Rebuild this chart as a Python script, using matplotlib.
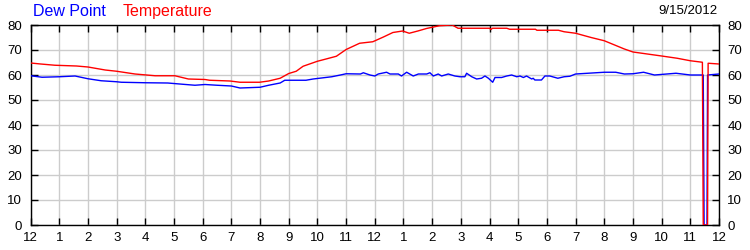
import matplotlib
matplotlib.use("Agg")
import matplotlib.pyplot as plt

# Data (hours since midnight, degrees F)
temp_hours = [0, 0.35, 0.85, 1.6, 2.0, 2.6, 3.0, 3.64, 4.34, 5.03, 5.5, 6.08, 6.24, 6.95,
              7.3, 7.98, 8.3, 8.7, 9.0, 9.26, 9.5, 10.0, 10.3, 10.66, 11.0, 11.47, 11.93,
              12.3, 12.63, 12.97, 13.2, 13.5, 13.8, 14.25, 14.7, 14.9, 16.0, 16.05, 16.1,
              16.6, 16.7, 17.6, 17.65, 18.4, 18.6, 19.0, 19.54, 20.0, 20.7, 21.0, 21.5,
              22.0, 22.54, 23.0, 23.42, 23.45, 23.6, 23.62, 24.0]
temp_values = [64.8, 64.4, 63.9, 63.6, 63.2, 62.0, 61.5, 60.4, 59.7, 59.7, 58.4, 58.2, 57.9, 57.6,
               57.1, 57.1, 57.6, 58.7, 60.6, 61.5, 63.5, 65.5, 66.4, 67.5, 70.2, 72.7, 73.3,
               75.2, 77.0, 77.6, 76.7, 77.6, 78.6, 79.7, 80.0, 78.7, 78.7, 78.2, 78.7,
               78.7, 78.3, 78.3, 77.9, 77.9, 77.3, 76.7, 75.0, 73.7, 70.4, 69.2, 68.4,
               67.6, 66.7, 65.7, 65.1, 0, 0, 64.7, 64.4]

dew_hours = [0, 0.4, 1.0, 1.55, 2.0, 2.46, 3.0, 3.16, 4.0, 4.78, 5.3, 5.73, 6.08, 6.5, 7.0,
             7.3, 8.0, 8.3, 8.7, 8.86, 9.6, 9.85, 10.5, 10.8, 11.0, 11.5, 11.6, 11.83, 12.0,
             12.12, 12.41, 12.53, 12.82, 12.93, 13.11, 13.34, 13.52, 13.81, 13.92, 14.04,
             14.21, 14.33, 14.56, 14.79, 14.97, 15.14, 15.2, 15.38, 15.55, 15.72, 15.84,
             15.96, 16.11, 16.19, 16.42, 16.6, 16.77, 16.95, 17.06, 17.18, 17.29, 17.47,
             17.52, 17.58, 17.81, 17.93, 18.1, 18.38, 18.6, 18.8, 19.0, 20.0, 20.4, 20.7,
             21.0, 21.37, 21.75, 22.5, 23.0, 23.45, 23.48, 23.58, 23.6, 24.0]
dew_values = [59.7, 59.1, 59.3, 59.6, 58.5, 57.7, 57.3, 57.1, 56.9, 56.8, 56.3, 55.9, 56.2, 55.9, 55.6,
              54.8, 55.1, 55.9, 56.8, 57.9, 57.9, 58.4, 59.3, 60.0, 60.5, 60.4, 60.9, 60.0, 59.6,
              60.4, 61.1, 60.4, 60.4, 59.6, 61.1, 59.6, 60.4, 60.4, 60.9, 59.6,
              60.4, 59.6, 60.4, 59.6, 59.3, 59.3, 60.7, 59.3, 58.4, 58.7, 59.6,
              58.7, 57.1, 59.0, 59.0, 59.6, 60.0, 59.3, 59.6, 59.0, 59.6, 58.4,
              58.7, 58.0, 58.0, 59.6, 59.6, 58.7, 59.3, 59.5, 60.4, 61.1, 61.1, 60.4,
              60.5, 61.1, 60.0, 60.7, 60.0, 60.0, 0, 0, 60.0, 60.4]

x_ticks = list(range(0, 25))
x_labels = ["12", "1", "2", "3", "4", "5", "6", "7", "8", "9", "10", "11",
            "12", "1", "2", "3", "4", "5", "6", "7", "8", "9", "10", "11", "12"]
y_ticks = [0, 10, 20, 30, 40, 50, 60, 70, 80]
date_label = "9/15/2012"

plt.rcParams['font.family'] = ['Liberation Sans', 'DejaVu Sans']

fig = plt.figure(figsize=(7.5, 2.5), dpi=100)
ax = fig.add_axes([0.0408, 0.1, 0.9179, 0.8])

ax.plot(dew_hours, dew_values, color="#0000ff", lw=1.0, zorder=3)
ax.plot(temp_hours, temp_values, color="#ff0000", lw=1.0, zorder=3)

ax.set_xlim(0, 24)
ax.set_ylim(0, 80)
ax.set_xticks(x_ticks)
ax.set_xticklabels(x_labels)
ax.set_yticks(y_ticks)
ax.grid(True, color="#cccccc", lw=1.0, zorder=0)
ax.set_axisbelow(True)

ax.tick_params(axis="both", direction="in", length=5, width=1, color="black",
               labelsize=9.5, top=True, right=True, labelright=True, labelleft=True)
ax.tick_params(axis="x", pad=5)
ax.tick_params(axis="y", pad=6)
for s in ax.spines.values():
    s.set_linewidth(1.0)
    s.set_color("black")

fig.text(0.044, 0.955, "Dew Point", color="#0000ff", fontsize=11.5, va="center", ha="left")
fig.text(0.164, 0.955, "Temperature", color="#ff0000", fontsize=11.5, va="center", ha="left")
fig.text(0.957, 0.955, date_label, color="black", fontsize=9.5, va="center", ha="right")

fig.savefig("out.png", dpi=100)
